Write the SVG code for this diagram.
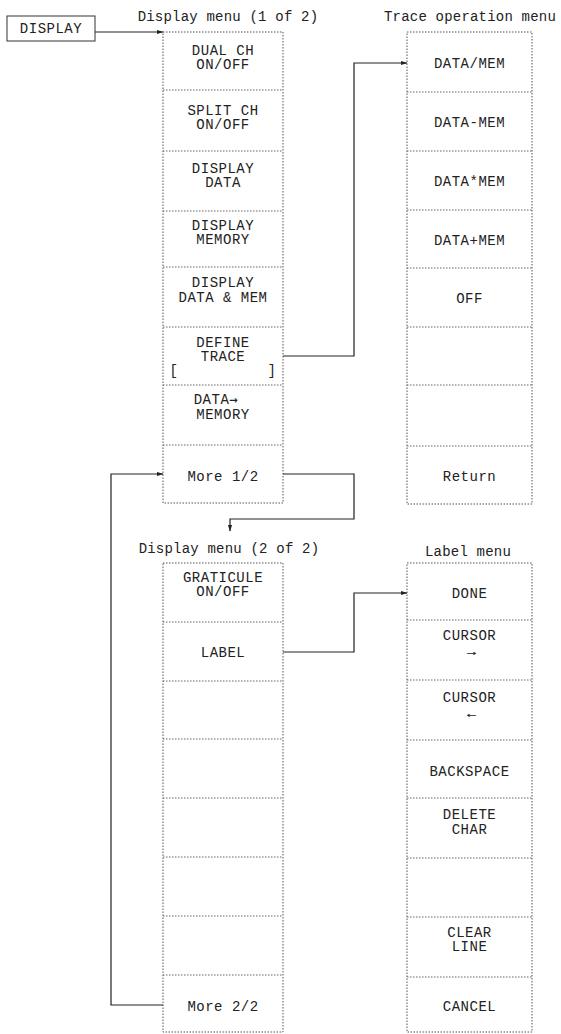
<svg xmlns="http://www.w3.org/2000/svg" width="561" height="1034" viewBox="0 0 561 1034">
<defs>
<style>
.bg{fill:#ffffff}
.box{fill:none;stroke:#555;stroke-width:1;stroke-dasharray:1.5 1.5}
.solidbox{fill:none;stroke:#333;stroke-width:1}
.div{fill:none;stroke:#666;stroke-width:1;stroke-dasharray:1.5 1.5}
.conn{fill:none;stroke:#222;stroke-width:1.2;marker-end:url(#ah)}
text{font-family:"Liberation Mono","DejaVu Sans Mono",monospace;font-size:14px;fill:#222;text-anchor:middle}
.t{letter-spacing:0.5px}
.ttl{font-size:14px;letter-spacing:0.2px}
.arr{font-family:"DejaVu Sans Mono",monospace;font-size:10px}
</style>
<marker id="ah" markerWidth="7" markerHeight="6" refX="6.5" refY="3" orient="auto" markerUnits="userSpaceOnUse">
<path d="M0,0.8 L7,3 L0,5.2 Z" fill="#222"/>
</marker>
</defs>
<rect class="bg" x="0" y="0" width="561" height="1034"/>

<g id="display-key">
<rect class="solidbox" x="7" y="16" width="88" height="25"/>
<text class="t" x="51" y="33">DISPLAY</text>
</g>

<g id="display-menu-1">
<text class="ttl" x="228" y="21">Display menu (1 of 2)</text>
<rect class="box" x="163" y="32" width="120" height="471"/>
<path class="div" d="M163,90H283M163,151H283M163,211H283M163,267H283M163,327H283M163,385H283M163,445H283"/>
<text class="t" x="223" y="55">DUAL CH</text>
<text class="t" x="223" y="69">ON/OFF</text>
<text class="t" x="223" y="115">SPLIT CH</text>
<text class="t" x="223" y="129">ON/OFF</text>
<text class="t" x="223" y="173">DISPLAY</text>
<text class="t" x="223" y="187">DATA</text>
<text class="t" x="223" y="230">DISPLAY</text>
<text class="t" x="223" y="244">MEMORY</text>
<text class="t" x="223" y="287">DISPLAY</text>
<text class="t" x="223" y="302">DATA &amp; MEM</text>
<text class="t" x="223" y="347">DEFINE</text>
<text class="t" x="223" y="361">TRACE</text>
<text class="t" x="174" y="375">[</text>
<text class="t" x="272" y="375">]</text>
<text class="t" x="216" y="404">DATA<tspan font-family="DejaVu Sans Mono, monospace">→</tspan></text>
<text class="t" x="223" y="419">MEMORY</text>
<text class="t" x="223" y="481">More 1/2</text>
</g>

<g id="trace-operation-menu">
<text class="ttl" x="470" y="21">Trace operation menu</text>
<rect class="box" x="407" y="32" width="125" height="472"/>
<path class="div" d="M407,92H532M407,151H532M407,210H532M407,268H532M407,327H532M407,385H532M407,446H532"/>
<text class="t" x="469.5" y="68">DATA/MEM</text>
<text class="t" x="469.5" y="127">DATA-MEM</text>
<text class="t" x="469.5" y="186">DATA*MEM</text>
<text class="t" x="469.5" y="245">DATA+MEM</text>
<text class="t" x="469.5" y="303">OFF</text>
<text class="t" x="469.5" y="481">Return</text>
</g>

<g id="display-menu-2">
<text class="ttl" x="229" y="553">Display menu (2 of 2)</text>
<rect class="box" x="163" y="563" width="120" height="469"/>
<path class="div" d="M163,622H283M163,681H283M163,739H283M163,798H283M163,857H283M163,916H283M163,975H283"/>
<text class="t" x="223" y="582">GRATICULE</text>
<text class="t" x="223" y="596">ON/OFF</text>
<text class="t" x="223" y="657">LABEL</text>
<text class="t" x="223" y="1011">More 2/2</text>
</g>

<g id="label-menu">
<text class="ttl" x="468" y="556">Label menu</text>
<rect class="box" x="407" y="563" width="125" height="469"/>
<path class="div" d="M407,620H532M407,680H532M407,740H532M407,798H532M407,858H532M407,917H532M407,977H532"/>
<text class="t" x="469.5" y="598">DONE</text>
<text class="t" x="469.5" y="640">CURSOR</text>
<text class="arr" transform="translate(471,656) scale(1.7,1)" x="0" y="0">→</text>
<text class="t" x="469.5" y="702">CURSOR</text>
<text class="arr" transform="translate(471,718) scale(1.7,1)" x="0" y="0">←</text>
<text class="t" x="469.5" y="776">BACKSPACE</text>
<text class="t" x="469.5" y="819">DELETE</text>
<text class="t" x="469.5" y="834">CHAR</text>
<text class="t" x="469.5" y="937">CLEAR</text>
<text class="t" x="469.5" y="951">LINE</text>
<text class="t" x="469.5" y="1011">CANCEL</text>
</g>

<g id="connectors">
<path class="conn" d="M95,32H163"/>
<path class="conn" d="M283,356H354V63H407"/>
<path class="conn" d="M283,474H354V519H230V531"/>
<path class="conn" d="M283,652H354V593H407"/>
<path class="conn" d="M163,1005H111V474H163"/>
</g>
</svg>
